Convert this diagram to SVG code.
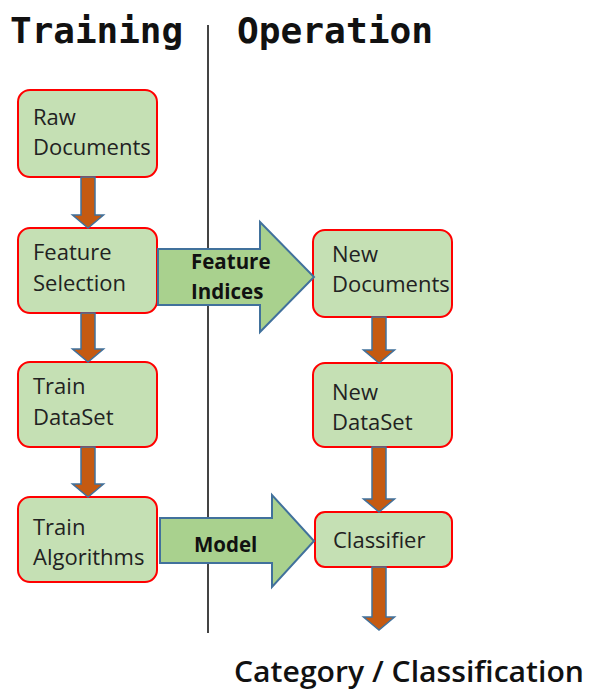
<svg xmlns="http://www.w3.org/2000/svg" width="595" height="695" viewBox="0 0 595 695">
  <style>
    .title { font-family: "DejaVu Sans Mono", "Liberation Mono", monospace; font-size: 36px; font-weight: bold; fill: #111; }
    .box { fill: #c5e0b4; stroke: #ff0000; stroke-width: 2; }
    .lbl { font-family: "Open Sans", "Liberation Sans", sans-serif; font-size: 22px; fill: #222; }
    .flow { fill: #c55a11; stroke: #41719c; stroke-width: 1.5; stroke-linejoin: miter; }
    .big { fill: #a9d18e; stroke: #41719c; stroke-width: 2; stroke-linejoin: miter; }
    .biglbl { font-family: "Open Sans", "Liberation Sans", sans-serif; font-size: 20.5px; font-weight: bold; fill: #111; }
    .out { font-family: "Open Sans", "Liberation Sans", sans-serif; font-size: 28px; font-weight: 600; fill: #111; }
  </style>

  <!-- column headings and divider -->
  <text class="title" x="10" y="43" textLength="173" lengthAdjust="spacingAndGlyphs">Training</text>
  <text class="title" x="237" y="43" textLength="196" lengthAdjust="spacingAndGlyphs">Operation</text>
  <line x1="208" y1="25" x2="208" y2="633" stroke="#444" stroke-width="2"/>

  <!-- training column -->
  <g id="raw-documents">
    <rect class="box" x="18" y="90" width="139" height="87" rx="12"/>
    <text class="lbl" x="33" y="125">Raw</text>
    <text class="lbl" x="33" y="155">Documents</text>
  </g>
  <g id="feature-selection">
    <rect class="box" x="18" y="228" width="139" height="85" rx="12"/>
    <text class="lbl" x="33" y="260">Feature</text>
    <text class="lbl" x="33" y="291">Selection</text>
  </g>
  <g id="train-dataset">
    <rect class="box" x="18" y="362" width="139" height="85" rx="12"/>
    <text class="lbl" x="33" y="394">Train</text>
    <text class="lbl" x="33" y="425">DataSet</text>
  </g>
  <g id="train-algorithms">
    <rect class="box" x="18" y="497" width="139" height="85" rx="12"/>
    <text class="lbl" x="33" y="535">Train</text>
    <text class="lbl" x="33" y="565">Algorithms</text>
  </g>

  <!-- operation column -->
  <g id="new-documents">
    <rect class="box" x="313" y="230" width="139" height="87" rx="12"/>
    <text class="lbl" x="332" y="262">New</text>
    <text class="lbl" x="332" y="292">Documents</text>
  </g>
  <g id="new-dataset">
    <rect class="box" x="313" y="363" width="139" height="84" rx="12"/>
    <text class="lbl" x="332" y="400">New</text>
    <text class="lbl" x="332" y="430">DataSet</text>
  </g>
  <g id="classifier">
    <rect class="box" x="315" y="512" width="137" height="55" rx="10"/>
    <text class="lbl" x="333" y="548">Classifier</text>
  </g>

  <!-- block arrows between stages -->
  <g id="connectors">
    <polygon class="flow" points="81,177 95,177 95,215 103.5,215 88,228 72.5,215 81,215"/>
    <polygon class="flow" points="81,313 95,313 95,349 103.5,349 88,362 72.5,349 81,349"/>
    <polygon class="flow" points="81,447 95,447 95,484 103.5,484 88,497 72.5,484 81,484"/>
    <polygon class="flow" points="372,317 386,317 386,350 394.5,350 379,363 363.5,350 372,350"/>
    <polygon class="flow" points="372,447 386,447 386,499 394.5,499 379,512 363.5,499 372,499"/>
    <polygon class="flow" points="372,567 386,567 386,617 394.5,617 379,630 363.5,617 372,617"/>

    <g id="feature-indices">
      <polygon class="big" points="158,249 260,249 260,222 314,277 260,332 260,305 158,305"/>
      <text class="biglbl" x="191" y="269">Feature</text>
      <text class="biglbl" x="191" y="299">Indices</text>
    </g>
    <g id="model">
      <polygon class="big" points="160,518 272,518 272,495 314,541 272,587 272,563 160,563"/>
      <text class="biglbl" x="194" y="552" font-size="21.5">Model</text>
    </g>
  </g>

  <text class="out" x="234" y="682" textLength="350" lengthAdjust="spacingAndGlyphs">Category / Classification</text>
</svg>
